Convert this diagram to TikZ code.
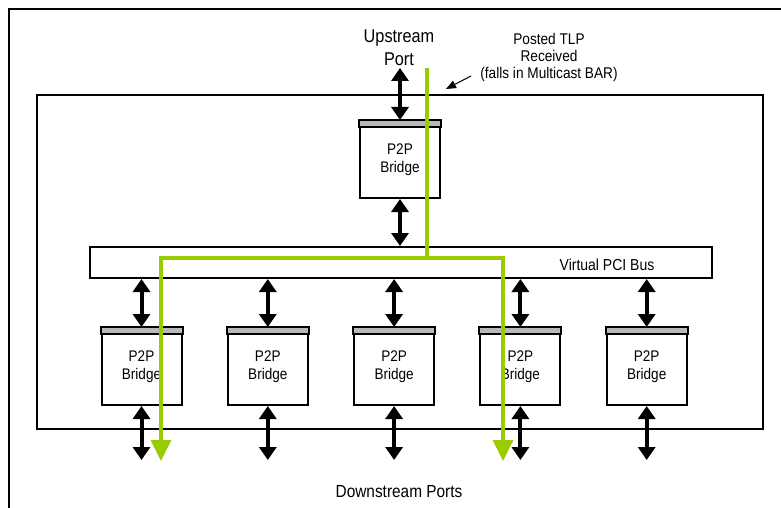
\documentclass[tikz,border=0pt]{standalone}
\usepackage{fontspec}
\setmainfont[FakeStretch=0.88]{Liberation Sans}
\usepackage{xcolor}
\usetikzlibrary{arrows.meta,positioning,calc}
\definecolor{tlpgreen}{RGB}{153,204,0}

\tikzset{
    bridge/.style={draw, line width=2pt, fill=white, minimum width=80pt, minimum height=77pt, inner sep=0pt, align=center, font=\fontsize{15.4}{18.5}\selectfont},
    hdr/.style={draw, line width=2pt, fill=gray!55},
    dbl/.style={{Triangle[width=17pt,length=13pt]}-{Triangle[width=17pt,length=13pt]}, line width=4pt},
    flow/.style={tlpgreen, line width=3.5pt, -{Triangle[width=20pt,length=21pt]}},
}

\begin{document}
\begin{tikzpicture}[x=1pt, y=-1pt]
    \useasboundingbox (0,0) rectangle (781,508);
    \draw[line width=2.6pt] (9,508) -- (9,9) -- (781,9); % outer frame
    \draw[line width=2.2pt] (37,95) rectangle (763,429); % switch

    \node[bridge, anchor=north west] (up) at (359,120) {P2P\\Bridge};
    \draw[hdr] (up.north west) rectangle ($(up.north east)+(0,7)$);

    \node[draw, line width=2pt, minimum width=622pt, minimum height=31pt, anchor=north west] (bus) at (89,246) {};
    \node[font=\fontsize{15.9}{18}\selectfont] (buslabel) at (607,265) {Virtual PCI Bus};

    \node[font=\fontsize{18.5}{23}\selectfont, align=center] (upport) at (399,48) {Upstream\\Port};
    \node[font=\fontsize{15.5}{17}\selectfont, align=center] (tlpnote) at (549,57) {Posted TLP\\Received\\(falls in Multicast BAR)};
    \node[font=\fontsize{17.5}{20}\selectfont] (downports) at (399,492) {Downstream Ports};

    \coordinate (upend) at (up.north |- 0,68);
    \draw[dbl] (upend) -- (up.north);
    \draw[dbl] (up.south) -- (up.south |- bus.north);

    \foreach \i in {1,...,5} {
        \node[bridge, anchor=north] (b\i) at (141.5+126.3*\i-126.3,327) {P2P\\Bridge};
        \draw[hdr] (b\i.north west) rectangle ($(b\i.north east)+(0,7)$);
        \draw[dbl] (b\i.north |- bus.south) -- (b\i.north);
        \coordinate (down\i) at (b\i.south |- 0,460);
        \draw[dbl] (b\i.south) -- (down\i);
    }

    % TLP path
    \coordinate (tlpin) at (427,68);
    \coordinate (split) at (427,258);
    \coordinate (tlpout1) at (161,461);
    \coordinate (tlpout2) at (503,461);
    \draw[flow] (tlpin) -- (split) -| (tlpout1);
    \draw[flow] (split) -| (tlpout2);

    \coordinate (tlptail) at (471,76);
    \coordinate (tlphit) at (446,89);
    \draw[line width=1pt, -{Triangle[width=8pt,length=10pt]}] (tlptail) -- (tlphit);
\end{tikzpicture}
\end{document}
